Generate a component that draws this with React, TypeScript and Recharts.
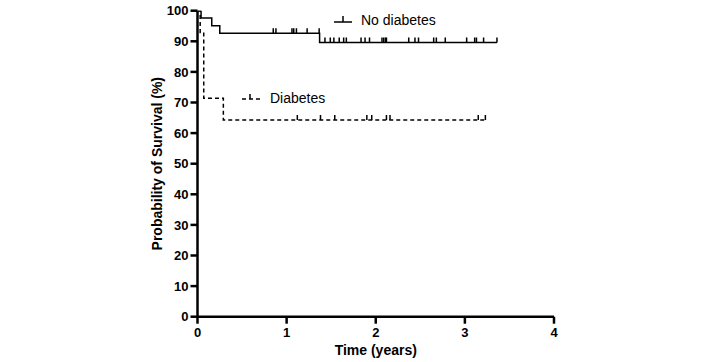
import { ComposedChart, Line, XAxis, YAxis } from 'recharts';

// Kaplan-Meier steps: [time in years, survival %]
const noDiabetesSteps: [number, number][] = [
  [0, 100],
  [0.04, 97.6],
  [0.16, 95.1],
  [0.25, 92.6],
  [1.37, 89.6],
];
const noDiabetesCensored = [
  0.85, 0.88, 1.06, 1.08, 1.11, 1.23, 1.365, 1.43, 1.49, 1.53, 1.59, 1.64, 1.67,
  1.835, 1.88, 1.93, 2.07, 2.09, 2.11, 2.12, 2.37, 2.44, 2.48, 2.65, 2.68, 2.78,
  3.02, 3.11, 3.13, 3.21, 3.36,
];

const diabetesSteps: [number, number][] = [
  [0, 100],
  [0.03, 92.9],
  [0.07, 71.4],
  [0.29, 64.3],
];
const diabetesCensored = [1.12, 1.38, 1.54, 1.9, 1.955, 2.12, 2.16, 3.15, 3.23];

const xTicks = [0, 1, 2, 3, 4];
const yTicks = [0, 10, 20, 30, 40, 50, 60, 70, 80, 90, 100];

type Pt = { t: number; s: number; censored: boolean };

// merge event steps with censor marks; a censor sits on the current step level
function buildCurve(steps: [number, number][], censored: number[]): Pt[] {
  const pts: Pt[] = steps.map(([t, s]) => ({ t, s, censored: false }));
  censored.forEach((c) => {
    let level = steps[0][1];
    steps.forEach(([t, s]) => {
      if (t <= c) level = s;
    });
    pts.push({ t: c, s: level, censored: true });
  });
  return pts.sort((a, b) => a.t - b.t);
}

const noDiabetes = buildCurve(noDiabetesSteps, noDiabetesCensored);
const diabetes = buildCurve(diabetesSteps, diabetesCensored);

const FONT = '"Liberation Sans", Arial, sans-serif';

const CensorTick = (props: any) => {
  const { cx, cy, payload, index } = props;
  if (!payload?.censored) return <g key={`n-${index}`} />;
  return (
    <line key={`c-${index}`} x1={cx} x2={cx} y1={cy} y2={cy - 5} stroke="#000" strokeWidth={1.5} />
  );
};

export default function App() {
  return (
    <div style={{ position: 'absolute', left: 0, top: 0, width: 706, height: 362, background: '#fff', fontFamily: FONT }}>
      <ComposedChart width={706} height={362} margin={{ top: 10.7, right: 152, left: 147.5, bottom: 15.3 }}>
        <XAxis
          type="number"
          dataKey="t"
          domain={[0, 4]}
          ticks={xTicks}
          allowDataOverflow
          axisLine={{ stroke: '#000', strokeWidth: 2.5 }}
          tickLine={{ stroke: '#000', strokeWidth: 2.5 }}
          tickSize={7}
          tickMargin={4}
          height={30}
          tick={{ fill: '#000', fontSize: 13, fontWeight: 700, fontFamily: FONT }}
          label={{ value: 'Time (years)', position: 'bottom', offset: -2, fill: '#000', fontSize: 14, fontWeight: 700, fontFamily: FONT }}
        />
        <YAxis
          type="number"
          domain={[0, 100]}
          ticks={yTicks}
          allowDataOverflow
          width={50}
          axisLine={{ stroke: '#000', strokeWidth: 2.5 }}
          tickLine={{ stroke: '#000', strokeWidth: 2.5 }}
          tickSize={7}
          tickMargin={2}
          tick={{ fill: '#000', fontSize: 13, fontWeight: 700, fontFamily: FONT }}
          label={{
            value: 'Probability of Survival (%)',
            angle: -90,
            position: 'insideLeft',
            offset: 10,
            fill: '#000',
            fontSize: 14,
            fontWeight: 700,
            fontFamily: FONT,
            style: { textAnchor: 'middle' },
          }}
        />
        <Line
          data={noDiabetes}
          dataKey="s"
          type="stepAfter"
          stroke="#000"
          strokeWidth={1.5}
          dot={CensorTick}
          activeDot={false}
          isAnimationActive={false}
        />
        <Line
          data={diabetes}
          dataKey="s"
          type="stepAfter"
          stroke="#000"
          strokeWidth={1.5}
          strokeDasharray="4 3"
          dot={CensorTick}
          activeDot={false}
          isAnimationActive={false}
        />
      </ComposedChart>
      {/* legend */}
      <svg style={{ position: 'absolute', left: 330, top: 10 }} width={26} height={20}>
        <line x1={4} x2={22} y1={12} y2={12} stroke="#000" strokeWidth={1.5} />
        <line x1={13} x2={13} y1={12} y2={6} stroke="#000" strokeWidth={1.5} />
      </svg>
      <div style={{ position: 'absolute', left: 361, top: 12, fontSize: 14, lineHeight: '16px', color: '#000' }}>No diabetes</div>
      <svg style={{ position: 'absolute', left: 238, top: 88 }} width={26} height={20}>
        <line x1={4} x2={22} y1={11} y2={11} stroke="#000" strokeWidth={1.5} strokeDasharray="4 3" />
        <line x1={12} x2={12} y1={11} y2={6} stroke="#000" strokeWidth={1.5} />
      </svg>
      <div style={{ position: 'absolute', left: 270, top: 90, fontSize: 14, lineHeight: '16px', color: '#000' }}>Diabetes</div>
    </div>
  );
}
